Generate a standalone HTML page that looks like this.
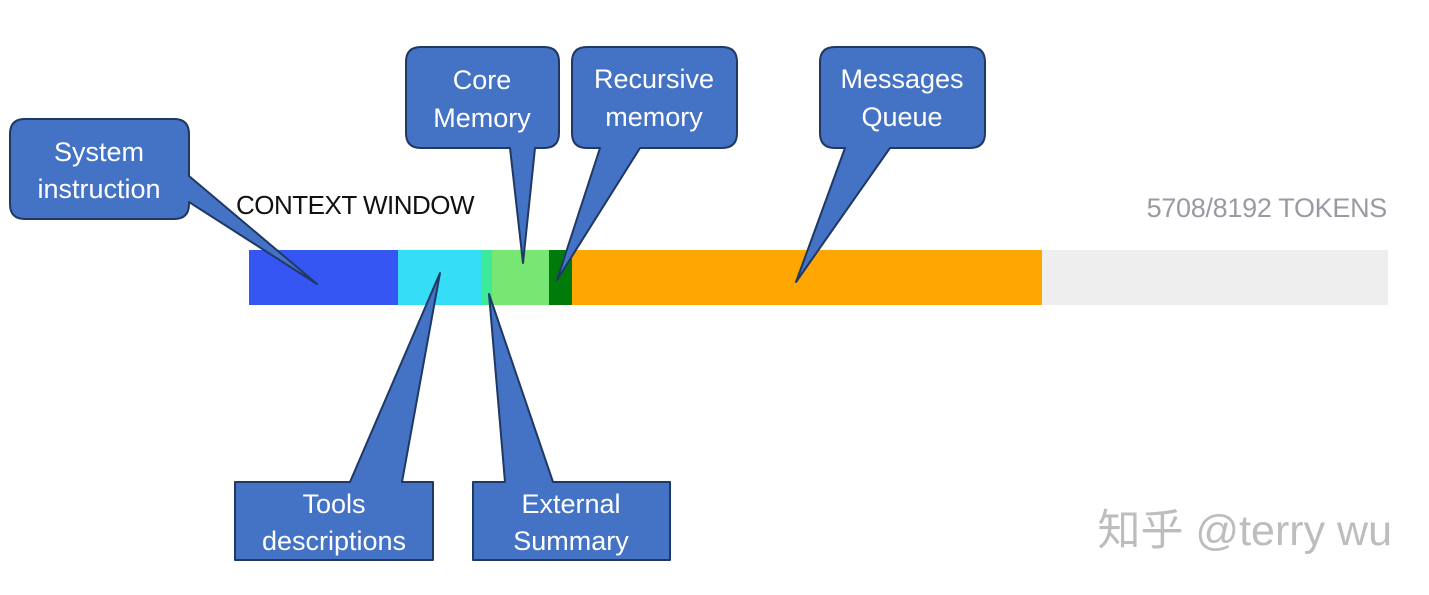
<!DOCTYPE html>
<html><head><meta charset="utf-8"><style>
html,body{margin:0;padding:0;background:#fff;}
svg{display:block}
.t{font-family:"Liberation Sans","DejaVu Sans",sans-serif;fill:#fff;font-size:27px;text-anchor:middle}
</style></head><body>
<svg width="1429" height="595" viewBox="0 0 1429 595" xmlns="http://www.w3.org/2000/svg">
<rect x="249" y="250" width="150" height="55" fill="#3656F4"/>
<rect x="398" y="250" width="84" height="55" fill="#36DDF6"/>
<rect x="481" y="250" width="12" height="55" fill="#3DEA9A"/>
<rect x="492" y="250" width="58" height="55" fill="#77E673"/>
<rect x="549" y="250" width="24" height="55" fill="#007A0A"/>
<rect x="572" y="250" width="471" height="55" fill="#FFA600"/>
<rect x="1042" y="250" width="346" height="55" fill="#EEEEEE"/>
<text x="236" y="214" font-family="'Liberation Sans',sans-serif" font-size="26" fill="#111" letter-spacing="-0.5">CONTEXT WINDOW</text>
<text x="1387" y="217" font-family="'Liberation Sans',sans-serif" font-size="27" fill="#9a9aa2" text-anchor="end" letter-spacing="-0.3">5708/8192 TOKENS</text>
<text x="1392" y="545" font-family="'Liberation Sans','Noto Sans CJK SC',sans-serif" font-size="43" fill="#bdbdbd" text-anchor="end">知乎 @terry wu</text>

<g fill="#4472C4" stroke="#1F3864" stroke-width="2" stroke-linejoin="round">
<path d="M25,119 H174 Q189,119 189,134 V176 L317,284 L189,202 V204 Q189,219 174,219 H25 Q10,219 10,204 V134 Q10,119 25,119 Z"/>
<path d="M421,47 H544 Q559,47 559,62 V133 Q559,148 544,148 H535 L523,263 L510,148 H421 Q406,148 406,133 V62 Q406,47 421,47 Z"/>
<path d="M587,47 H722 Q737,47 737,62 V133 Q737,148 722,148 H640 L557,280 L600,148 H587 Q572,148 572,133 V62 Q572,47 587,47 Z"/>
<path d="M835,47 H970 Q985,47 985,62 V133 Q985,148 970,148 H890 L796,282 L845,148 H835 Q820,148 820,133 V62 Q820,47 835,47 Z"/>
<path d="M235,482 H350 L440,273 L402,482 H433 V560 H235 Z"/>
<path d="M473,482 H505 L489,294 L553,482 H670 V560 H473 Z"/>
</g>
<text class="t" x="99" y="161">System</text>
<text class="t" x="99" y="198">instruction</text>
<text class="t" x="482" y="89">Core</text>
<text class="t" x="482" y="127">Memory</text>
<text class="t" x="654" y="88">Recursive</text>
<text class="t" x="654" y="126">memory</text>
<text class="t" x="902" y="88">Messages</text>
<text class="t" x="902" y="126">Queue</text>
<text class="t" x="334" y="513">Tools</text>
<text class="t" x="334" y="550">descriptions</text>
<text class="t" x="571" y="513">External</text>
<text class="t" x="571" y="550">Summary</text>
</svg>
</body></html>
